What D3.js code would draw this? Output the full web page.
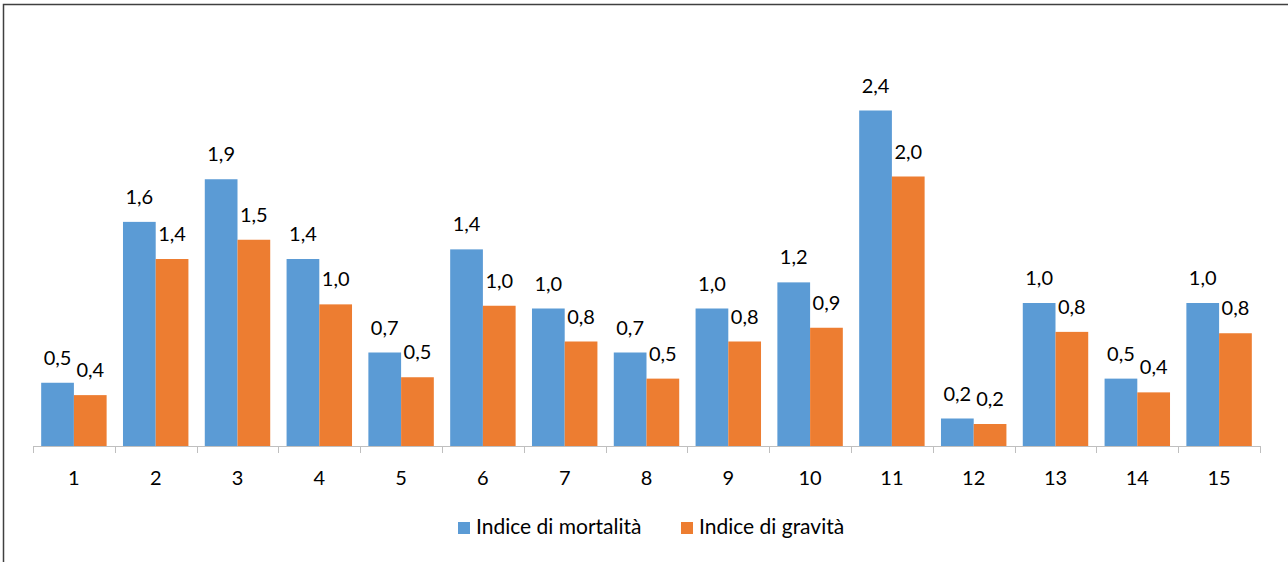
<!DOCTYPE html>
<html>
<head>
<meta charset="utf-8">
<script src="https://cdn.jsdelivr.net/npm/d3@7"></script>
<style>
  body { margin: 0; background: #fff; }
  text { font-family: Lato, "Noto Sans", sans-serif; fill: #000; }
</style>
</head>
<body>
<div id="chart"></div>
<script>
// data
var categories = ["1", "2", "3", "4", "5", "6", "7", "8", "9", "10", "11", "12", "13", "14", "15"];
var seriesNames = ["Indice di mortalità", "Indice di gravità"];
var mortalita = [0.46, 1.63, 1.94, 1.36, 0.68, 1.43, 1.00, 0.68, 1.00, 1.19, 2.44, 0.20, 1.04, 0.49, 1.04];
var gravita   = [0.37, 1.36, 1.50, 1.03, 0.50, 1.02, 0.76, 0.49, 0.76, 0.86, 1.96, 0.16, 0.83, 0.39, 0.82];
var colors = ["#5B9BD5", "#ED7D31"];

var svgWidth = 1288;
var svgHeight = 562;

var svg = d3.select("#chart")
  .append("svg")
  .attr("width", svgWidth)
  .attr("height", svgHeight);

// outer frame (only top and left edges show in the crop)
svg.append("path")
  .attr("d", "M3.5,562 L3.5,4.5 L1288,4.5")
  .attr("fill", "none")
  .attr("stroke", "#404040")
  .attr("stroke-width", 1.5);

var x0 = d3.scaleBand()
  .domain(categories)
  .range([33, 1260])
  .paddingInner(0.2)
  .paddingOuter(0.1);

var x1 = d3.scaleBand()
  .domain(seriesNames)
  .range([0, x0.bandwidth()]);

var baseY = 446;
var y = d3.scaleLinear()
  .domain([0, 2.8])
  .range([baseY, baseY - 2.8 * 137.5]);

var rows = categories.map(function(c, i) {
  return { cat: c, values: [mortalita[i], gravita[i]] };
});

var groups = svg.selectAll("g.cat")
  .data(rows)
  .enter().append("g")
  .attr("class", "cat")
  .attr("transform", d => `translate(${x0(d.cat)},0)`);

groups.selectAll("rect")
  .data(d => d.values.map((v, j) => ({ name: seriesNames[j], v: v, j: j })))
  .enter().append("rect")
  .attr("x", d => x1(d.name))
  .attr("y", d => y(d.v))
  .attr("width", x1.bandwidth())
  .attr("height", d => baseY - y(d.v))
  .attr("fill", d => colors[d.j]);

var fmt = d3.formatLocale({ decimal: ",", thousands: ".", grouping: [3], currency: ["", "€"] }).format(".1f");

groups.selectAll("text.lbl")
  .data(d => d.values.map((v, j) => ({ name: seriesNames[j], v: v, j: j })))
  .enter().append("text")
  .attr("class", "lbl")
  .attr("x", d => x1(d.name) + x1.bandwidth() / 2)
  .attr("y", d => y(d.v) - 18)
  .attr("text-anchor", "middle")
  .attr("font-size", 20)
  .text(d => fmt(d.v));

// x axis: baseline, ticks between categories, labels
var axisG = svg.append("g");
axisG.append("line")
  .attr("x1", 33).attr("x2", 1260)
  .attr("y1", baseY + 0.5).attr("y2", baseY + 0.5)
  .attr("stroke", "#bfbfbf");

var step = x0.step();
var bounds = d3.range(categories.length + 1).map(i => 33 + i * step);
axisG.selectAll("line.tick")
  .data(bounds)
  .enter().append("line")
  .attr("class", "tick")
  .attr("x1", d => Math.round(d) + 0.5).attr("x2", d => Math.round(d) + 0.5)
  .attr("y1", baseY).attr("y2", baseY + 7)
  .attr("stroke", "#bfbfbf");

axisG.selectAll("text.xl")
  .data(categories)
  .enter().append("text")
  .attr("class", "xl")
  .attr("x", d => x0(d) + x0.bandwidth() / 2)
  .attr("y", 485)
  .attr("text-anchor", "middle")
  .attr("font-size", 20)
  .text(d => d);

// legend
var legendX = [458, 681];
var legend = svg.selectAll("g.legend")
  .data(seriesNames)
  .enter().append("g")
  .attr("class", "legend")
  .attr("transform", (d, i) => `translate(${legendX[i]},522)`);

legend.append("rect")
  .attr("width", 12).attr("height", 12)
  .attr("fill", (d, i) => colors[i]);

legend.append("text")
  .attr("x", 18)
  .attr("y", 12)
  .attr("font-size", 21)
  .text(d => d);
</script>
</body>
</html>
